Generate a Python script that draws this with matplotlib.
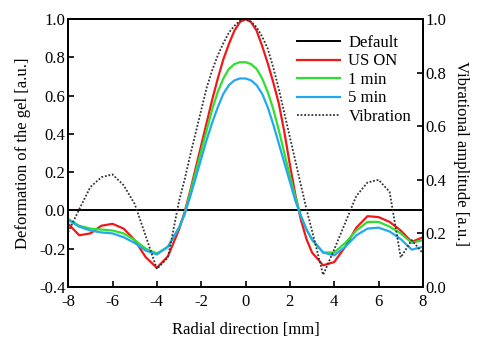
import numpy as np
import matplotlib
matplotlib.use("Agg")
import matplotlib.pyplot as plt

plt.rcParams['font.family'] = ['Liberation Serif', 'DejaVu Serif']
plt.rcParams['font.size'] = 12
plt.rcParams['axes.unicode_minus'] = False

# Radial positions [mm]: coarser on the flanks, finer around the peak
x = np.concatenate([np.arange(-8, -3.4, 0.5), np.arange(-3, 3.01, 0.25), np.arange(3.5, 8.01, 0.5)])

# Deformation of the gel [a.u.] (left axis)
default = np.zeros_like(x)
us_on = [-0.07, -0.13, -0.12, -0.08, -0.07, -0.095, -0.155, -0.245, -0.30, -0.24,
         -0.10, -0.01, 0.10, 0.22, 0.34, 0.46, 0.58, 0.69, 0.79, 0.87, 0.94, 0.985,
         1.0, 0.985, 0.94, 0.86, 0.77, 0.67, 0.56, 0.41, 0.24, 0.08, -0.05, -0.15, -0.22,
         -0.287, -0.27, -0.19, -0.09, -0.03, -0.035, -0.06, -0.105, -0.165, -0.14]
min1 = [-0.045, -0.08, -0.095, -0.10, -0.105, -0.12, -0.155, -0.20, -0.225, -0.19,
        -0.09, -0.02, 0.09, 0.20, 0.31, 0.42, 0.53, 0.62, 0.69, 0.74, 0.765, 0.775,
        0.775, 0.765, 0.74, 0.69, 0.62, 0.53, 0.42, 0.30, 0.18, 0.07, -0.03, -0.10, -0.155,
        -0.22, -0.22, -0.17, -0.105, -0.06, -0.06, -0.085, -0.12, -0.17, -0.155]
min5 = [-0.05, -0.085, -0.105, -0.115, -0.12, -0.14, -0.17, -0.21, -0.23, -0.19,
        -0.09, -0.02, 0.07, 0.17, 0.27, 0.37, 0.46, 0.54, 0.61, 0.655, 0.68, 0.69,
        0.69, 0.68, 0.655, 0.61, 0.54, 0.45, 0.35, 0.25, 0.15, 0.05, -0.03, -0.10, -0.15,
        -0.22, -0.235, -0.19, -0.13, -0.095, -0.09, -0.11, -0.15, -0.205, -0.19]

# Vibrational amplitude [a.u.] (right axis)
vibration = [0.205, 0.29, 0.373, 0.41, 0.42, 0.38, 0.31, 0.19, 0.067, 0.11,
             0.32, 0.40, 0.49, 0.575, 0.66, 0.745, 0.81, 0.865, 0.91, 0.95, 0.975, 0.995,
             1.0, 0.99, 0.97, 0.935, 0.89, 0.82, 0.74, 0.65, 0.56, 0.47, 0.38, 0.29, 0.21,
             0.045, 0.14, 0.24, 0.34, 0.39, 0.40, 0.355, 0.11, 0.175, 0.125]

fig = plt.figure(figsize=(4.8, 3.42), dpi=100)
ax = fig.add_axes([0.142, 0.161, 0.739, 0.783])
ax2 = ax.twinx()

l0, = ax.plot(x, default, color='black', lw=1.4, label='Default')
l1, = ax.plot(x, us_on, color='#f21818', lw=1.6, label='US ON')
l2, = ax.plot(x, min1, color='#2ee02e', lw=1.6, label='1 min')
l3, = ax.plot(x, min5, color='#22a8f2', lw=1.6, label='5 min')
l4, = ax2.plot(x, vibration, color='#333333', lw=1.3, ls=(0, (1, 1)), label='Vibration')

ax.set_xlim(-8, 8)
ax.set_ylim(-0.4, 1.0)
ax2.set_ylim(0.0, 1.0)
ax.set_xticks(np.arange(-8, 9, 2))
ax.set_yticks(np.arange(-0.4, 1.01, 0.2))
ax2.set_yticks(np.arange(0.0, 1.01, 0.2))
ax.set_yticklabels(['-0.4', '-0.2', '0.0', '0.2', '0.4', '0.6', '0.8', '1.0'])
ax2.set_yticklabels(['0.0', '0.2', '0.4', '0.6', '0.8', '1.0'])

for a in (ax, ax2):
    a.tick_params(direction='in', length=4, width=1.2, pad=2)
    for s in a.spines.values():
        s.set_linewidth(1.3)
ax.tick_params(axis='x', pad=5)

ax.set_xlabel('Radial direction [mm]', labelpad=9)
ax.set_ylabel('Deformation of the gel [a.u.]', labelpad=6)
ax2.set_ylabel('Vibrational amplitude [a.u.]', rotation=270, labelpad=16)

ax.legend(handles=[l0, l1, l2, l3, l4], loc='upper right', frameon=False,
          handlelength=2.6, handletextpad=0.5, labelspacing=0.15,
          borderaxespad=0.3, bbox_to_anchor=(1.0, 0.985))

fig.savefig('out.png', dpi=100)
